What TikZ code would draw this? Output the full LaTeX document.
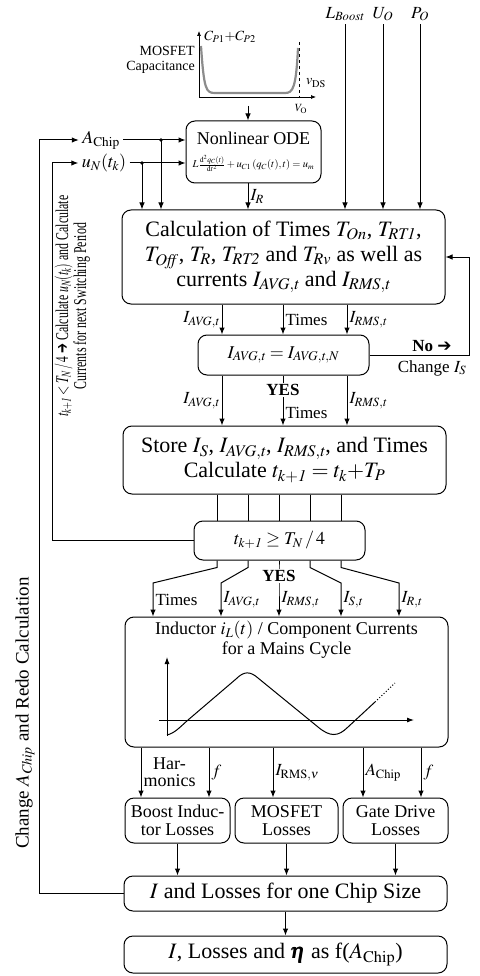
\documentclass[tikz,border=0pt]{standalone}
\usepackage{amsmath}
\usepackage{mathptmx}
\usepackage{fontspec}
\setmainfont{Liberation Serif}
\newfontfamily\arrowfont{DejaVu Sans}
\usetikzlibrary{arrows.meta, positioning}

\newcommand{\heavyarr}{{\arrowfont\char"2794}}

\begin{document}
\begin{tikzpicture}[x=1pt, y=-1pt,
  box/.style={draw, rounded corners=9pt, line width=1pt, align=center, inner sep=2pt},
  arr/.style={-{Latex[length=7pt, width=5.5pt]}, line width=1pt},
  conn/.style={line width=1pt},
  big/.style={font=\fontsize{22}{25}\selectfont},
  mid/.style={font=\fontsize{18}{20}\selectfont},
  lab/.style={font=\fontsize{17}{19}\selectfont, inner sep=2pt},
  small/.style={font=\fontsize{14}{15}\selectfont, inner sep=1pt}
]
\useasboundingbox (0,0) rectangle (479,976);

% MOSFET capacitance sketch
\draw[-{Latex[length=5pt, width=4pt]}, line width=0.7pt] (199,97) -- (199,31);
\draw[-{Latex[length=5pt, width=4pt]}, line width=0.7pt] (199,97) -- (316,97);
\draw[dashed, line width=0.7pt] (299,42) -- (299,97);
\draw[black!45, line width=2.2pt] (201,46) .. controls (204,90) and (206,93) .. (215,93)
  -- (285,93) .. controls (293,93) and (296,88) .. (298,48);
\node[small, align=right, left] (capname) at (196,60) {MOSFET\\Capacitance};
\node[small] (cplabel) at (230,37) {$C_{P1}{+}C_{P2}$};
\node[small] (vds) at (316,83) {$v_{\mathrm{DS}}$};
\node[font=\fontsize{11}{12}\selectfont] (vo) at (301,109) {$V_{\mathrm{O}}$};
\coordinate (capbot) at (248,106);

% boxes
\node[box, mid, minimum width=135pt, minimum height=62pt] (ode) at (253.5,152)
  {Nonlinear ODE\\[3pt] {\fontsize{10.5}{12}\selectfont $L\frac{\mathrm{d}^2q_C(t)}{\mathrm{d}t^2}+u_{C1}\left(q_C(t),t\right)=u_{m}$}};
\node[box, big, minimum width=323pt, minimum height=94pt] (calc) at (283.5,257)
  {Calculation of Times $T_{\mathit{On}}$, $T_{\mathit{RT1}}$,\\ $T_{\mathit{Off}}$, $T_R$, $T_{\mathit{RT2}}$ and $T_{\mathit{Rv}}$ as well as\\ currents $I_{\mathit{AVG,t}}$ and $I_{\mathit{RMS,t}}$};
\node[box, mid, minimum width=171pt, minimum height=40pt] (cond) at (283.5,355) {$I_{\mathit{AVG,t}} = I_{\mathit{AVG,t,N}}$};
\node[box, big, minimum width=323pt, minimum height=68pt] (store) at (284.5,460)
  {Store $I_S$, $I_{\mathit{AVG,t}}$, $I_{\mathit{RMS,t}}$, and Times\\ Calculate $t_{\mathit{k+1}} = t_k{+}T_P$};
\node[box, mid, minimum width=171pt, minimum height=39pt] (tk) at (279.5,540.5) {$t_{\mathit{k+1}} \geq T_N\,/\,4$};
\node[box, minimum width=323pt, minimum height=130pt] (ind) at (286.5,682) {};
\node[mid, align=center, below=1pt of ind.north] (indtitle)
  {Inductor $i_L(t)$ / Component Currents\\ for a Mains Cycle};
\node[box, mid, font=\fontsize{18}{18}\selectfont, minimum width=105pt, minimum height=45pt, inner sep=1pt] (boost) at (177.5,820.5) {Boost Induc-\\tor Losses};
\node[box, mid, font=\fontsize{18}{18}\selectfont, minimum width=103pt, minimum height=45pt, inner sep=1pt] (mosfet) at (286.5,820.5) {MOSFET\\Losses};
\node[box, mid, font=\fontsize{18}{18}\selectfont, minimum width=105pt, minimum height=45pt, inner sep=1pt] (gate) at (395.5,820.5) {Gate Drive\\Losses};
\node[box, big, minimum width=323pt, minimum height=35pt] (lossI) at (285.5,893.5) {$I$ and Losses for one Chip Size};
\node[box, big, minimum width=323pt, minimum height=37pt] (final) at (285.5,954.5) {$I$, Losses and $\pmb{\eta}$ as f($A_{\mathrm{Chip}}$)};

% inputs
\node[font=\fontsize{17}{19}\selectfont] (lboost) at (345,14) {$L_{\mathit{Boost}}$};
\node[font=\fontsize{17}{19}\selectfont] (uo) at (383,14) {$U_O$};
\node[font=\fontsize{17}{19}\selectfont] (po) at (420,14) {$P_O$};
\node[mid] (achip) at (101,140) {$A_{\mathrm{Chip}}$};
\node[mid] (uN) at (104,163) {$u_N(t_k)$};
\foreach \n in {lboost, uo, po}
  \draw[arr] (\n) -- (\n |- calc.north);

\coordinate (colR) at (248,0);
\coordinate (dA) at (161,140);
\coordinate (dU) at (142,163);
\draw[arr] (capbot) -- (capbot |- ode.north);
\draw[arr] (achip) -- (achip -| ode.west);
\draw[arr] (uN) -- (uN -| ode.west);
\fill (dA) circle (1.8pt);
\fill (dU) circle (1.8pt);
\draw[arr] (dA) -- (dA |- calc.north);
\draw[arr] (dU) -- (dU |- calc.north);
\draw[arr] (colR |- ode.south) -- (colR |- calc.north) node[midway, right, lab] {$I_R$};

% calculation -> check
\coordinate (cA) at (222,0);
\coordinate (cB) at (283,0);
\coordinate (cC) at (347,0);
\draw[arr] (cA |- calc.south) -- (cA |- cond.north) node[midway, left, lab] {$I_{\mathit{AVG,t}}$};
\draw[arr] (cB |- calc.south) -- (cB |- cond.north) node[midway, right, lab] {Times};
\draw[arr] (cC |- calc.south) -- (cC |- cond.north) node[midway, right, lab] {$I_{\mathit{RMS,t}}$};
\draw[arr] (cA |- cond.south) -- (cA |- store.north) node[midway, left, lab] {$I_{\mathit{AVG,t}}$};
\draw[arr] (cC |- cond.south) -- (cC |- store.north) node[midway, right, lab] {$I_{\mathit{RMS,t}}$};
\draw[arr] (cB |- cond.south) -- (cB |- store.north) node[pos=0.75, right, lab] {Times};
\node[lab, font=\fontsize{17}{19}\bfseries, fill=white, inner sep=1pt] (yes1) at (283,390) {YES};

% no -> change I_S
\coordinate (loopR) at (469,0);
\draw[arr] (cond.east) -| (loopR |- calc.east) -- (calc.east);
\node[lab, font=\fontsize{17}{19}\bfseries] (no) at (432,346) {No \heavyarr};
\node[lab] (chis) at (432,368) {Change $I_S$};

% store -> t_{k+1} check -> inductor currents
\foreach \xs/\xe [count=\i] in {217/153, 248/221, 279/279, 310/341, 341/399} {
  \coordinate (sc\i) at (\xs,0);
  \coordinate (ec\i) at (\xe,583);
}
\foreach \i in {1,...,5}
  \draw[conn] (sc\i |- store.south) -- (sc\i |- tk.north);
\foreach \i/\lab in {1/Times, 2/{$I_{\mathit{AVG,t}}$}, 3/{$I_{\mathit{RMS,t}}$}, 4/{$I_{\mathit{S,t}}$}, 5/{$I_{\mathit{R,t}}$}}
  \draw[arr] (sc\i |- tk.south) -- ++(0,7) -- (ec\i) -- (ec\i |- ind.north) node[midway, right, lab] {\lab};
\node[lab, font=\fontsize{17}{19}\bfseries, fill=white, inner sep=1pt] (yes2) at (279,576) {YES};

% inductor current sketch
\draw[-{Latex[length=7pt, width=5pt]}, line width=0.9pt] (167,736) -- (167,657);
\draw[-{Latex[length=7pt, width=5pt]}, line width=0.9pt] (159,720) -- (414,720);
\draw[line width=1pt] (167,735) .. controls (175,733) and (180,727) .. (188,720)
  -- (236,679) .. controls (244,671) and (250,671) .. (258,678)
  -- (318,727) .. controls (330,737) and (338,737) .. (348,727) -- (375,702);
\draw[line width=1pt, dotted] (375,702) -- (395,683);

% inductor -> loss boxes
\coordinate (b1) at (141,0);
\coordinate (b2) at (209,0);
\coordinate (b3) at (273,0);
\coordinate (b4) at (363,0);
\coordinate (b5) at (421,0);
\draw[arr] (b1 |- ind.south) -- (b1 |- boost.north) node[midway, right, lab, align=center, font=\fontsize{18}{17}\selectfont] {Har-\\monics};
\draw[arr] (b2 |- ind.south) -- (b2 |- boost.north) node[midway, right, lab] {$f$};
\draw[arr] (b3 |- ind.south) -- (b3 |- mosfet.north) node[midway, right, lab] {$I_{\mathrm{RMS},\nu}$};
\draw[arr] (b4 |- ind.south) -- (b4 |- gate.north) node[midway, right, lab] {$A_{\mathrm{Chip}}$};
\draw[arr] (b5 |- ind.south) -- (b5 |- gate.north) node[midway, right, lab] {$f$};
\foreach \n in {boost, mosfet, gate}
  \draw[arr] (\n) -- (\n |- lossI.north);
\draw[arr] (lossI) -- (final);

% loops back on the left
\coordinate (loopU) at (52,0);
\coordinate (loopA) at (39,0);
\draw[arr] (tk.west) -| (loopU |- uN) -- (uN.west);
\draw[arr] (lossI.west) -| (loopA |- achip) -- (achip.west);
\node[mid, rotate=90, inner sep=0pt] (rotU) at (73,306)
  {\scalebox{0.66}[1]{\begin{tabular}{@{}c@{}}$t_{\mathit{k+1}} < T_N\,/\,4$ \heavyarr{} Calculate $u_N(t_k)$ and Calculate\\[-2pt] Currents for next Switching Period\end{tabular}}};
\node[font=\fontsize{19}{21}\selectfont, rotate=90] (rotA) at (25,713) {Change $A_{\mathit{Chip}}$ and Redo Calculation};
\end{tikzpicture}
\end{document}
